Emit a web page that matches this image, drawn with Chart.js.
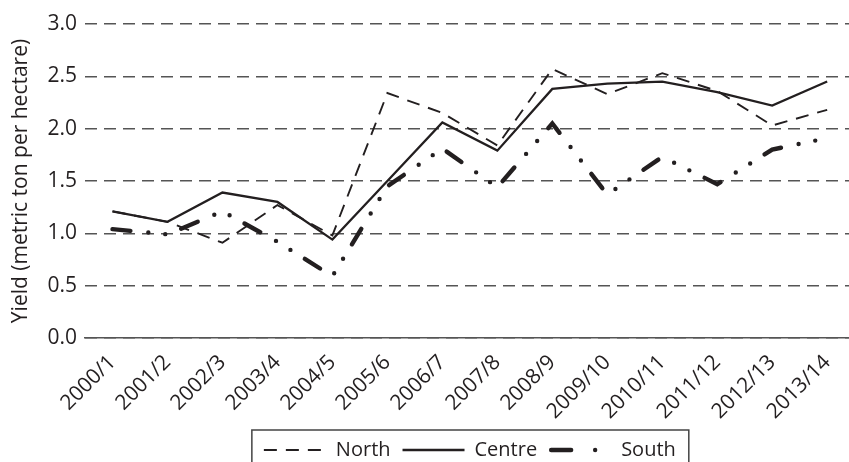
<!DOCTYPE html>
<html>
<head>
<meta charset="utf-8">
<script src="https://cdn.jsdelivr.net/npm/chart.js@4.4.1/dist/chart.umd.min.js"></script>
<style>
    html, body { margin: 0; padding: 0; background: #fff; overflow: hidden; }
    /* a bit taller and wider than the window: the source is cropped at right and bottom */
    #wrap { width: 857px; height: 470px; position: relative; }
</style>
</head>
<body>
<div id="wrap"><canvas id="yieldChart"></canvas></div>
<script>
// Crop yield by region, metric ton per hectare
const seasons = ['2000/1', '2001/2', '2002/3', '2003/4', '2004/5', '2005/6', '2006/7',
    '2007/8', '2008/9', '2009/10', '2010/11', '2011/12', '2012/13', '2013/14'];
const northYield = [1.21, 1.11, 0.91, 1.27, 0.98, 2.34, 2.15, 1.84, 2.57, 2.33, 2.53, 2.36, 2.03, 2.18];
const centreYield = [1.21, 1.11, 1.39, 1.30, 0.94, 1.50, 2.06, 1.79, 2.38, 2.43, 2.45, 2.35, 2.22, 2.45];
const southYield = [1.04, 0.99, 1.21, 0.92, 0.59, 1.45, 1.81, 1.44, 2.05, 1.37, 1.73, 1.47, 1.80, 1.91];
const yTicks = [0, 0.5, 1.0, 1.5, 2.0, 2.5, 3.0];

const FONT = 'Open Sans';
const INK = '#231f20';
const SAMPLE_W = 62;

// legend line samples (dash shapes differ a bit from the plotted ones)
const legendDash = { North: [13, 9], Centre: [], South: [20, 24, 0, 30] };

// Chart.js skips borderDash on pointStyle 'line', so draw the samples here
// and frame the legend, open at the bottom like the source
const legendFrame = {
    id: 'legendFrame',
    afterDraw(chart) {
        const legend = chart.legend;
        const boxes = legend && legend.legendHitBoxes;
        if (!boxes || !boxes.length) return;
        const ctx = chart.ctx;
        ctx.save();
        legend.legendItems.forEach((item, i) => {
            const ds = chart.data.datasets[item.datasetIndex];
            const b = boxes[i];
            const y = b.top + b.height / 2;
            ctx.strokeStyle = INK;
            ctx.lineWidth = ds.borderWidth;
            ctx.lineCap = ds.borderCapStyle || 'butt';
            ctx.setLineDash(legendDash[ds.label] || []);
            ctx.beginPath();
            const x0 = b.left + (ctx.lineCap === 'round' ? 2 : 0);
            ctx.moveTo(x0, y);
            ctx.lineTo(b.left + SAMPLE_W, y);
            ctx.stroke();
        });
        const left = Math.min(...boxes.map(b => b.left)) - 12;
        const right = Math.max(...boxes.map(b => b.left + b.width)) + 13;
        const top = Math.min(...boxes.map(b => b.top)) - 10;
        ctx.setLineDash([]);
        ctx.lineCap = 'butt';
        ctx.strokeStyle = '#444';
        ctx.lineWidth = 1.5;
        ctx.beginPath();
        ctx.moveTo(left, chart.height + 5);
        ctx.lineTo(left, top);
        ctx.lineTo(right, top);
        ctx.lineTo(right, chart.height + 5);
        ctx.stroke();
        ctx.restore();
    }
};

new Chart(document.getElementById('yieldChart'), {
    type: 'line',
    data: {
        labels: seasons,
        datasets: [
            {
                label: 'North',
                data: northYield,
                borderColor: INK,
                borderWidth: 1.9,
                borderDash: [13, 9],
                pointRadius: 0,
                tension: 0
            },
            {
                label: 'Centre',
                data: centreYield,
                borderColor: INK,
                borderWidth: 2.3,
                pointRadius: 0,
                tension: 0
            },
            {
                label: 'South',
                data: southYield,
                borderColor: INK,
                borderWidth: 4.4,
                borderDash: [18, 18, 0, 17, 0, 17],
                borderCapStyle: 'round',
                pointRadius: 0,
                tension: 0
            }
        ]
    },
    options: {
        responsive: true,
        maintainAspectRatio: false,
        animation: false,
        layout: { padding: { top: 24, left: 0, right: 0, bottom: 0 } },
        plugins: {
            legend: {
                position: 'bottom',
                fullSize: false,
                labels: {
                    boxWidth: SAMPLE_W,
                    boxHeight: 2,
                    padding: 12,
                    color: INK,
                    font: { family: FONT, size: 20 },
                    generateLabels(chart) {
                        const items = Chart.defaults.plugins.legend.labels.generateLabels(chart);
                        items.forEach(it => {
                            it.fillStyle = 'rgba(0,0,0,0)';
                            it.strokeStyle = 'rgba(0,0,0,0)';
                            it.lineWidth = 0;
                        });
                        return items;
                    }
                }
            },
            tooltip: { enabled: false }
        },
        scales: {
            x: {
                offset: true,
                grid: { display: false, drawTicks: false },
                border: { display: true, color: '#555', width: 1.5 },
                ticks: {
                    color: INK,
                    font: { family: FONT, size: 21 },
                    minRotation: 45,
                    maxRotation: 45,
                    padding: 12
                },
                afterFit(scale) { scale.height = 90; }
            },
            y: {
                min: 0,
                max: 3,
                afterBuildTicks(scale) {
                    scale.ticks = yTicks.map(v => ({ value: v }));
                },
                grid: { color: '#555', lineWidth: 1.5, drawTicks: false },
                border: { display: false, dash: [12, 7] },
                ticks: {
                    color: INK,
                    font: { family: FONT, size: 21 },
                    padding: 8,
                    callback: v => Number(v).toFixed(1)
                },
                title: {
                    display: true,
                    text: 'Yield (metric ton per hectare)',
                    color: INK,
                    font: { family: FONT, size: 21 },
                    padding: { top: 8, bottom: 0 }
                },
                afterFit(scale) { scale.width = 85; }
            }
        }
    },
    plugins: [legendFrame]
});
</script>
</body>
</html>
